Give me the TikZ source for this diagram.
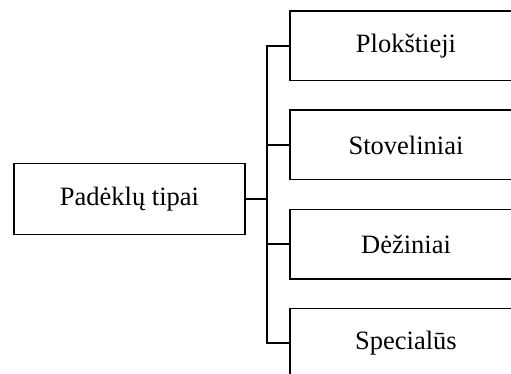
\documentclass[tikz,border=0pt]{standalone}
\usepackage{fontspec}
\setmainfont{Liberation Serif}
\begin{document}
\begin{tikzpicture}[x=1pt, y=-1pt,
  box/.style={draw, line width=1.5pt, inner sep=0pt, font=\fontsize{26.5}{30}\selectfont},
  rootbox/.style={box, minimum width=231pt, minimum height=71pt},
  leafbox/.style={box, minimum width=232pt, minimum height=69.5pt},
  link/.style={line width=1.6pt, line join=miter}]
  \useasboundingbox (0,0) rectangle (511,374);
  \clip (0,0) rectangle (511,374);

  \node[rootbox] (root) at (129.5,199) {Padėklų tipai};

  \node[leafbox] (b1) at (406,45.8) {Plokštieji};
  \node[leafbox] (b2) at (406,145) {Stoveliniai};
  \node[leafbox] (b3) at (406,244) {Dėžiniai};
  \node[leafbox] (b4) at (406,343) {Specialūs};

  \coordinate (j) at (267,199);

  \draw[link] (root.east) -- (j);
  \draw[link] (b1.west) -| (j);
  \draw[link] (b4.west) -| (j);
  \draw[link] (j |- b2.west) -- (b2.west);
  \draw[link] (j |- b3.west) -- (b3.west);
\end{tikzpicture}
\end{document}
